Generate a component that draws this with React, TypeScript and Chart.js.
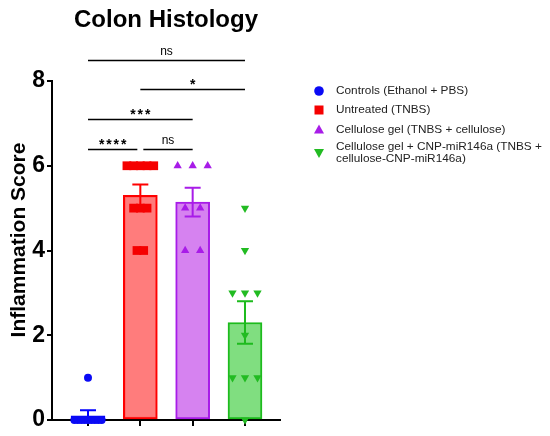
import React, { useEffect, useRef } from "react";
import { Chart, registerables } from "chart.js";

Chart.register(...registerables);

const FONT = "'Liberation Sans', Arial, sans-serif";

const categories = [
  "Controls (Ethanol + PBS)",
  "Untreated (TNBS)",
  "Cellulose gel (TNBS + cellulose)",
  "Cellulose gel + CNP-miR146a (TNBS + cellulose-CNP-miR146a)",
];
const legendLines = [
  ["Controls (Ethanol + PBS)"],
  ["Untreated (TNBS)"],
  ["Cellulose gel (TNBS + cellulose)"],
  ["Cellulose gel + CNP-miR146a (TNBS +", "cellulose-CNP-miR146a)"],
];

const means = [0.1, 5.3, 5.14, 2.3];
const sems = [0.13, 0.26, 0.34, 0.5];

const controlsPoints = [0, 0, 0, 0, 0, 0, 0, 0, 0, 1];
const untreatedPoints = [6, 6, 6, 6, 6, 5, 5, 5, 4, 4];
const cellulosePoints = [6, 6, 6, 5, 5, 4, 4];
const cnpPoints = [5, 4, 3, 3, 3, 2, 1, 1, 1, 0];

const yTicks = [0, 2, 4, 6, 8];

// significance brackets
const bracketFrom = [0, 1, 0, 0, 1];
const bracketTo = [3, 3, 2, 1, 2];
const bracketLevel = [8.5, 7.81, 7.1, 6.4, 6.4];
const bracketLabel = ["ns", "*", "***", "****", "ns"];

const borderColors = ["#0000FF", "#FF0000", "#A81CE8", "#1DBB1D"];
const fillColors = [
  "rgba(40,40,255,0.55)",
  "rgba(255,110,110,0.9)",
  "rgba(214,130,240,1)",
  "rgba(128,222,128,1)",
];
const pointColors = ["#0A0AF5", "#F50000", "#A81CE8", "#22BB22"];
const pointStyles = ["circle", "rect", "triangle", "triangle"];
const pointRotations = [0, 0, 0, 180];
const pointRadii = [4, 6.2, 4.8, 4.8];
const jitterSpacing = [0.065, 0.128, 0.287, 0.239];

function jitter(values: number[], idx: number, spacing: number) {
  const groups: Record<string, number> = {};
  values.forEach((v) => (groups[v] = (groups[v] || 0) + 1));
  const seen: Record<string, number> = {};
  return values.map((v) => {
    const k = groups[v];
    const j = seen[v] || 0;
    seen[v] = j + 1;
    return { x: idx + (j - (k - 1) / 2) * spacing, y: v };
  });
}

const overlayPlugin = {
  id: "overlay",
  afterDatasetDraw(chart: any, args: any) {
    if (args.index !== 0) return;
    const ctx = chart.ctx;
    const xs = chart.scales.x;
    const ys = chart.scales.y;
    ctx.save();
    means.forEach((m, i) => {
      const x = xs.getPixelForValue(i);
      const top = ys.getPixelForValue(m + sems[i]);
      const bot = ys.getPixelForValue(Math.max(0, m - sems[i]));
      ctx.strokeStyle = borderColors[i];
      ctx.lineWidth = 2;
      ctx.beginPath();
      ctx.moveTo(x, top);
      ctx.lineTo(x, bot);
      ctx.moveTo(x - 8, top);
      ctx.lineTo(x + 8, top);
      if (m - sems[i] > 0) {
        ctx.moveTo(x - 8, bot);
        ctx.lineTo(x + 8, bot);
      }
      ctx.stroke();
    });
    ctx.restore();
  },
  afterDraw(chart: any) {
    const ctx = chart.ctx;
    const xs = chart.scales.x;
    const ys = chart.scales.y;
    ctx.save();
    // title
    ctx.fillStyle = "#000";
    ctx.font = `bold 24px ${FONT}`;
    ctx.textAlign = "center";
    ctx.textBaseline = "alphabetic";
    ctx.fillText("Colon Histology", 166, 27);
    // y title
    ctx.save();
    ctx.translate(25, 240);
    ctx.rotate(-Math.PI / 2);
    ctx.font = `bold 21px ${FONT}`;
    ctx.textAlign = "center";
    ctx.fillText("Inflammation Score", 0, 0);
    ctx.restore();
    // brackets
    ctx.strokeStyle = "#000";
    ctx.lineWidth = 1.6;
    bracketFrom.forEach((f, i) => {
      const t = bracketTo[i];
      const y = Math.round(ys.getPixelForValue(bracketLevel[i])) + 0.5;
      let x1 = xs.getPixelForValue(f);
      let x2 = xs.getPixelForValue(t);
      bracketFrom.forEach((f2, j) => {
        if (j === i || bracketLevel[j] !== bracketLevel[i]) return;
        if (bracketTo[j] === f) x1 += 3;
        if (f2 === t) x2 -= 3;
      });
      ctx.beginPath();
      ctx.moveTo(x1, y);
      ctx.lineTo(x2, y);
      ctx.stroke();
      const lab = bracketLabel[i];
      const cx = (x1 + x2) / 2;
      ctx.textAlign = "center";
      ctx.textBaseline = "alphabetic";
      if (lab === "ns") {
        ctx.font = `12px ${FONT}`;
        ctx.fillText(lab, cx, y - 6);
      } else {
        ctx.font = `bold 14px ${FONT}`;
        const n = lab.length;
        for (let k = 0; k < n; k++) {
          ctx.fillText("*", cx + (k - (n - 1) / 2) * 7.3, y - 1);
        }
      }
    });
    // legend
    const lx = 319;
    const tx = 336;
    const rowY = [91, 110, 129.5, 153];
    ctx.font = `11.8px ${FONT}`;
    ctx.textAlign = "left";
    ctx.textBaseline = "middle";
    legendLines.forEach((lines, i) => {
      const y = rowY[i];
      ctx.fillStyle = pointColors[i];
      ctx.beginPath();
      if (i === 0) {
        ctx.arc(lx, y, 4.8, 0, Math.PI * 2);
      } else if (i === 1) {
        ctx.rect(lx - 4.5, y - 4.5, 9, 9);
      } else if (i === 2) {
        ctx.moveTo(lx, y - 5);
        ctx.lineTo(lx + 5, y + 4);
        ctx.lineTo(lx - 5, y + 4);
        ctx.closePath();
      } else {
        ctx.moveTo(lx, y + 5);
        ctx.lineTo(lx + 5, y - 4);
        ctx.lineTo(lx - 5, y - 4);
        ctx.closePath();
      }
      ctx.fill();
      ctx.fillStyle = "#222";
      if (lines.length === 1) {
        ctx.fillText(lines[0], tx, y);
      } else {
        ctx.fillText(lines[0], tx, y - 5.8);
        ctx.fillText(lines[1], tx, y + 5.8);
      }
    });
    ctx.restore();
  },
};

export default function App() {
  const ref = useRef<HTMLCanvasElement | null>(null);
  useEffect(() => {
    document.body.style.margin = "0";
    const allPoints = [controlsPoints, untreatedPoints, cellulosePoints, cnpPoints];
    const scatterSets = allPoints.map((vals, i) => ({
      type: "scatter" as const,
      label: categories[i],
      data: jitter(vals, i, jitterSpacing[i]),
      pointStyle: pointStyles[i],
      rotation: pointRotations[i],
      radius: pointRadii[i],
      pointRadius: pointRadii[i],
      backgroundColor: pointColors[i],
      borderColor: pointColors[i],
      borderWidth: 0,
      clip: false as any,
      order: 1,
    }));
    const chart = new Chart(ref.current as HTMLCanvasElement, {
      type: "bar",
      data: {
        datasets: [
          {
            type: "bar",
            label: "mean",
            data: means.map((m, i) => ({ x: i, y: m })) as any,
            backgroundColor: fillColors,
            borderColor: borderColors,
            borderWidth: 2,
            borderSkipped: false,
            barThickness: 34,
            order: 2,
          } as any,
          ...(scatterSets as any),
        ],
      },
      options: {
        animation: false,
        responsive: false,
        events: [],
        layout: { padding: { top: 81, right: 270, left: 0, bottom: 0 } },
        plugins: {
          legend: { display: false },
          title: { display: false },
          tooltip: { enabled: false },
        },
        scales: {
          x: {
            type: "linear",
            min: -0.688,
            max: 3.669,
            offset: false,
            afterBuildTicks: (s: any) => {
              s.ticks = [0, 1, 2, 3].map((v) => ({ value: v }));
            },
            afterFit: (s: any) => {
              s.height = 16;
            },
            ticks: { display: false },
            grid: {
              display: true,
              offset: false,
              drawOnChartArea: false,
              drawTicks: true,
              tickLength: 6,
              color: "#000",
              lineWidth: 2,
            },
            border: { display: true, color: "#000", width: 2 },
          },
          y: {
            min: 0,
            max: 8,
            afterBuildTicks: (s: any) => {
              s.ticks = yTicks.map((v) => ({ value: v }));
            },
            afterFit: (s: any) => {
              s.width = 52;
            },
            ticks: {
              color: "#000",
              padding: 2,
              font: { family: FONT, size: 23, weight: "bold" },
            },
            grid: {
              display: true,
              drawOnChartArea: false,
              drawTicks: true,
              tickLength: 5,
              color: "#000",
              lineWidth: 2,
            },
            border: { display: true, color: "#000", width: 2 },
          },
        },
      } as any,
      plugins: [overlayPlugin],
    });
    return () => chart.destroy();
  }, []);
  return (
    <div style={{ width: 550, height: 436, background: "#fff" }}>
      <canvas ref={ref} width={550} height={436} style={{ display: "block" }} />
    </div>
  );
}
